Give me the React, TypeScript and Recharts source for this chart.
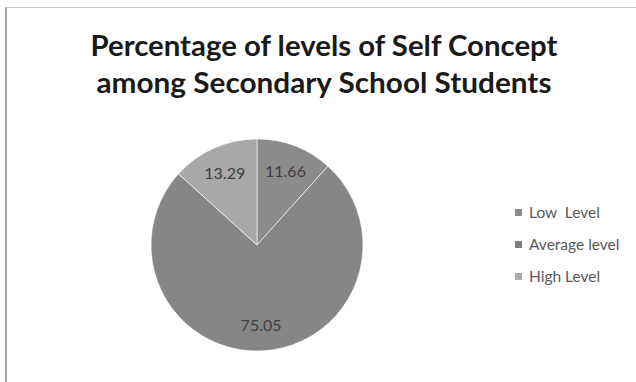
import { PieChart, Pie, Cell, Legend } from "recharts";

const LEVELS = ["Low  Level", "Average level", "High Level"];
const PERCENTS = [11.66, 75.05, 13.29];
const SLICE_COLORS = ["#8b8b8b", "#868686", "#a9a9a9"];
const KEY_COLORS = ["#8c8c8c", "#7f7f7f", "#aaaaaa"];
const TITLE_LINES = [
  "Percentage of levels of Self Concept",
  "among Secondary School Students",
];

const data = LEVELS.map((name, i) => ({ name, value: PERCENTS[i] }));

const RAD = Math.PI / 180;

function SliceLabel(props: any) {
  const { cx, cy, midAngle, outerRadius, value } = props;
  const r = outerRadius * 0.75;
  const x = cx + r * Math.cos(-midAngle * RAD);
  const y = cy + r * Math.sin(-midAngle * RAD);
  return (
    <text
      x={x}
      y={y}
      textAnchor="middle"
      dominantBaseline="central"
      fill="#3f3f3f"
      fontSize={16}
      fontFamily="Lato, 'Open Sans', sans-serif"
    >
      {value.toFixed(2)}
    </text>
  );
}

function KeyList({ payload }: any) {
  return (
    <div style={{ fontFamily: "Lato, 'Open Sans', sans-serif" }}>
      {(payload || []).map((entry: any) => (
        <div
          key={entry.value}
          style={{
            display: "flex",
            alignItems: "center",
            height: 32,
            fontSize: 15.5,
            color: "#595959",
            whiteSpace: "pre",
          }}
        >
          <span
            style={{
              display: "inline-block",
              width: 7,
              height: 7,
              marginRight: 7,
              background: KEY_COLORS[LEVELS.indexOf(entry.value)],
            }}
          />
          {entry.value}
        </div>
      ))}
    </div>
  );
}

export default function App() {
  return (
    <div
      style={{
        position: "fixed",
        left: 0,
        top: 0,
        width: 636,
        height: 382,
        background: "#ffffff",
        overflow: "hidden",
      }}
    >
      <div
        style={{
          position: "absolute",
          left: 5,
          top: 7,
          width: 640,
          height: 380,
          borderLeft: "2px solid #a3a3a3",
          borderTop: "1px solid #cacaca",
        }}
      />
      <svg
        width={636}
        height={110}
        style={{ position: "absolute", left: 0, top: 0 }}
      >
        {TITLE_LINES.map((line, i) => (
          <text
            key={line}
            x={324}
            y={56 + i * 37}
            textAnchor="middle"
            fontFamily="Lato, 'Open Sans', sans-serif"
            fontWeight="bold"
            fontSize={29}
            fill="#1a1a1a"
            textLength={i === 0 ? 467 : 455}
            lengthAdjust="spacingAndGlyphs"
          >
            {line}
          </text>
        ))}
      </svg>
      <div style={{ position: "absolute", left: 0, top: 0 }}>
        <PieChart
          width={636}
          height={382}
          margin={{ top: 0, right: 0, bottom: 0, left: 0 }}
        >
          <Pie
            data={data}
            dataKey="value"
            nameKey="name"
            cx={257}
            cy={245}
            outerRadius={106}
            startAngle={90}
            endAngle={-270}
            stroke="#ffffff"
            strokeWidth={0.6}
            label={SliceLabel}
            labelLine={false}
            isAnimationActive={false}
          >
            {data.map((d, i) => (
              <Cell key={d.name} fill={SLICE_COLORS[i]} />
            ))}
          </Pie>
          <Legend
            layout="vertical"
            align="right"
            verticalAlign="top"
            itemSorter={(item: any) => LEVELS.indexOf(item.value)}
            content={<KeyList />}
            wrapperStyle={{ left: 515, top: 196, width: 121 }}
          />
        </PieChart>
      </div>
    </div>
  );
}
